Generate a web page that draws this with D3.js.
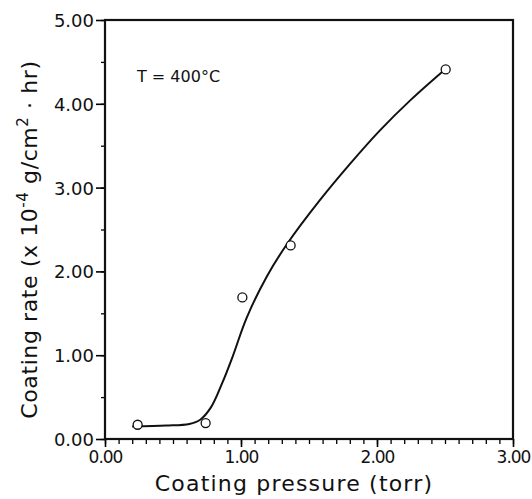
<!DOCTYPE html>
<html lang="en">
<head>
  <meta charset="UTF-8">
  <title>Coating rate vs pressure</title>
  <script src="https://d3js.org/d3.v7.min.js"></script>
  <style>
    body { margin: 0; background: #fff; }
    text { font-family: "DejaVu Sans", sans-serif; fill: #111; }
  </style>
</head>
<body>
<div class="canvas"></div>
<script>
  // measured points (torr, x1e-4 g/cm2.hr)
  const pressure = [0.24, 0.74, 1.01, 1.365, 2.505]
  const rate = [0.17, 0.19, 1.69, 2.31, 4.41]

  // hand drawn fit line
  const curveX = [0.20, 0.45, 0.62, 0.70, 0.78, 0.86, 0.94, 1.04, 1.19, 1.34, 1.58, 1.80, 2.02, 2.25, 2.50]
  const curveY = [0.15, 0.16, 0.18, 0.23, 0.38, 0.66, 0.99, 1.44, 1.94, 2.33, 2.85, 3.28, 3.68, 4.05, 4.41]

  const xTicks = [0, 1, 2, 3]
  const yTicks = [0, 1, 2, 3, 4, 5]

  const margin = {top: 20, right: 19, bottom: 60, left: 105}
  const width = 532, height = 499
  const w = width - margin.left - margin.right
  const h = height - margin.top - margin.bottom

  const svg = d3.select('.canvas')
    .append('svg')
    .attr('width', width)
    .attr('height', height)

  const g = svg.append('g')
    .attr('transform', `translate(${margin.left}, ${margin.top})`)

  const x = d3.scaleLinear().domain([0, 3]).range([0, w])
  const y = d3.scaleLinear().domain([0, 5]).range([h, 0])

  // minor ticks first
  g.append('g')
    .attr('transform', `translate(0, ${h})`)
    .call(d3.axisBottom(x).tickValues(d3.range(0, 31).map(i => i / 10)).tickSize(5).tickFormat(''))
    .call(a => a.select('.domain').remove())
    .selectAll('line').attr('stroke-width', 1.3)

  g.append('g')
    .call(d3.axisLeft(y).tickValues(d3.range(0, 11).map(i => i / 2)).tickSize(4).tickFormat(''))
    .call(a => a.select('.domain').remove())
    .selectAll('line').attr('stroke-width', 1.3)

  // major ticks + labels
  const xAxis = g.append('g')
    .attr('transform', `translate(0, ${h})`)
    .call(d3.axisBottom(x).tickValues(xTicks).tickSize(8).tickPadding(4).tickFormat(d3.format('.2f')))
  xAxis.select('.domain').remove()
  xAxis.selectAll('line').attr('stroke-width', 1.6)
  xAxis.selectAll('text')
    .style('font-size', '17px')
    .attr('letter-spacing', '-1px')

  const yAxis = g.append('g')
    .call(d3.axisLeft(y).tickValues(yTicks).tickSize(9).tickPadding(2).tickFormat(d3.format('.2f')))
  yAxis.select('.domain').remove()
  yAxis.selectAll('line').attr('stroke-width', 1.6)
  yAxis.selectAll('text')
    .style('font-size', '18px')
    .attr('dy', '0.36em')

  // frame
  g.append('rect')
    .attr('width', w)
    .attr('height', h)
    .attr('fill', 'none')
    .attr('stroke', '#111')
    .attr('stroke-width', 2.2)

  // fit line
  const line = d3.line()
    .x(d => x(d[0]))
    .y(d => y(d[1]))
    .curve(d3.curveCatmullRom.alpha(0.5))

  g.append('path')
    .datum(curveX.map((v, i) => [v, curveY[i]]))
    .attr('d', line)
    .attr('fill', 'none')
    .attr('stroke', '#111')
    .attr('stroke-width', 2)

  g.selectAll('.pt')
    .data(pressure.map((v, i) => [v, rate[i]]))
    .enter()
    .append('circle')
    .attr('class', 'pt')
    .attr('cx', d => x(d[0]))
    .attr('cy', d => y(d[1]))
    .attr('r', 4.5)
    .attr('fill', '#fff')
    .attr('stroke', '#111')
    .attr('stroke-width', 1.3)

  // annotation
  g.append('text')
    .attr('x', 32)
    .attr('y', 62)
    .style('font-size', '16px')
    .text('T = 400°C')

  // axis titles
  svg.append('text')
    .attr('x', margin.left + w / 2 - 15)
    .attr('y', 491)
    .attr('text-anchor', 'middle')
    .style('font-size', '22px')
    .attr('letter-spacing', '1.2px')
    .text('Coating pressure (torr)')

  const yl = svg.append('text')
    .attr('transform', `translate(37, ${margin.top + h / 2 + 10}) rotate(-90)`)
    .attr('text-anchor', 'middle')
    .style('font-size', '22px')
    .attr('letter-spacing', '0.6px')
  yl.append('tspan').text('Coating rate (x 10')
  yl.append('tspan').attr('dy', -9).style('font-size', '15px').text('-4')
  yl.append('tspan').attr('dy', 9).text(' g/cm')
  yl.append('tspan').attr('dy', -9).style('font-size', '15px').text('2')
  yl.append('tspan').attr('dy', 9).text(' · hr)')
</script>
</body>
</html>
